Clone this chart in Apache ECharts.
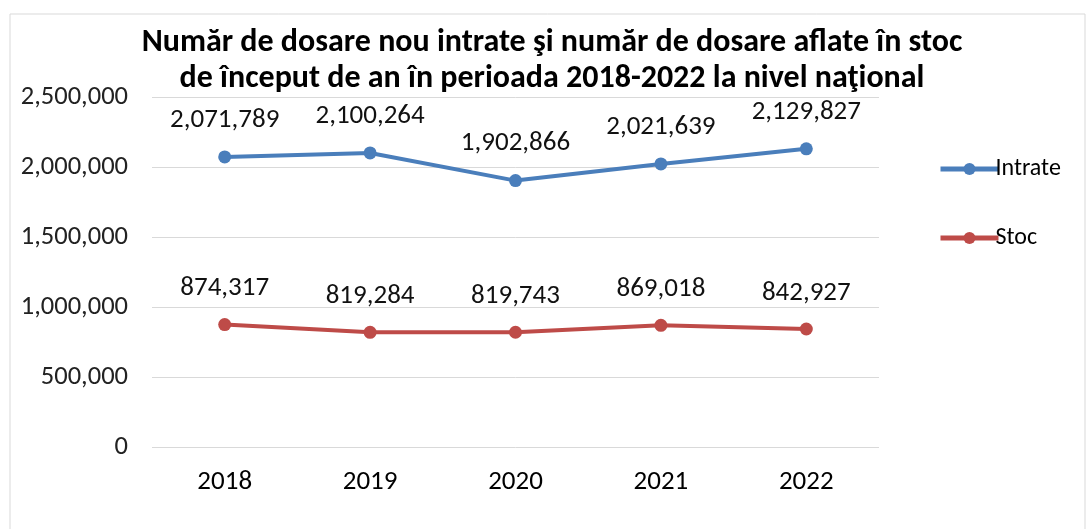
<!DOCTYPE html>
<html>
<head>
<meta charset="utf-8">
<script src="https://cdn.jsdelivr.net/npm/echarts@6/dist/echarts.min.js"></script>
<style>
  html, body { margin: 0; padding: 0; background: #fff; }
  #chart { width: 1089px; height: 529px; }
</style>
</head>
<body>
<div id="chart"></div>
<script>
const years = ['2018', '2019', '2020', '2021', '2022']
const intrate = [2071789, 2100264, 1902866, 2021639, 2129827]
const stoc = [874317, 819284, 819743, 869018, 842927]
const yTicks = [0, 500000, 1000000, 1500000, 2000000, 2500000]

const chart = echarts.init(document.getElementById('chart'))

const fmt = v => v.toLocaleString('en-US')
const font = "Carlito, Calibri, 'Liberation Sans Narrow', 'Noto Sans', sans-serif"

const option = {
  animation: false,
  backgroundColor: '#fff',
  textStyle: { fontFamily: font },
  title: {
    text: 'Număr de dosare nou intrate şi număr de dosare aflate în stoc\nde început de an în perioada 2018-2022 la nivel naţional',
    left: 547,
    textAlign: 'center',
    top: 20,
    textStyle: { fontFamily: font, fontSize: 32, fontWeight: 'bold', color: '#000', lineHeight: 36 }
  },
  graphic: [{
    type: 'rect',
    shape: { x: 10, y: 14, width: 1075, height: 520 },
    style: { fill: 'none', stroke: '#d9d9d9', lineWidth: 1 },
    silent: true
  }],
  legend: {
    orient: 'vertical',
    left: 933,
    top: 152,
    itemGap: 45,
    itemWidth: 58,
    itemHeight: 15,
    lineStyle: { width: 5 },
    textStyle: { fontFamily: font, fontSize: 24, color: '#000', padding: [0, 0, 0, -8] },
    data: ['Intrate', 'Stoc']
  },
  grid: { left: 152, right: 210, top: 97, bottom: 82 },
  xAxis: {
    type: 'category',
    data: years,
    boundaryGap: true,
    axisLine: { show: false },
    axisTick: { show: false },
    axisLabel: { fontFamily: font, fontSize: 27, color: '#000', margin: 22 }
  },
  yAxis: {
    type: 'value',
    min: yTicks[0],
    max: yTicks[yTicks.length - 1],
    interval: 500000,
    axisLine: { show: false },
    axisTick: { show: false },
    splitLine: { lineStyle: { color: '#d9d9d9', width: 1 } },
    axisLabel: { fontFamily: font, fontSize: 26.5, color: '#222', margin: 24, formatter: fmt }
  },
  series: [
    {
      name: 'Intrate',
      type: 'line',
      data: intrate,
      color: '#4a7ebb',
      symbol: 'circle',
      symbolSize: 13,
      lineStyle: { width: 4 },
      label: { show: true, position: 'top', distance: 17, fontFamily: font, fontSize: 27, color: '#111', formatter: p => fmt(p.value) }
    },
    {
      name: 'Stoc',
      type: 'line',
      data: stoc,
      color: '#be4b48',
      symbol: 'circle',
      symbolSize: 13,
      lineStyle: { width: 4 },
      label: { show: true, position: 'top', distance: 16, fontFamily: font, fontSize: 27, color: '#111', formatter: p => fmt(p.value) }
    }
  ]
}

chart.setOption(option)
window.addEventListener('resize', () => { chart.resize() })
</script>
</body>
</html>
